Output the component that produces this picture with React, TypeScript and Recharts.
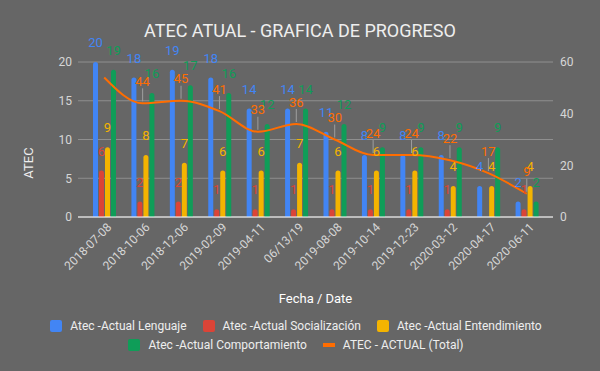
import { ComposedChart, Bar, Line, XAxis, YAxis, CartesianGrid, Legend, LabelList } from 'recharts';

const dates = [
  '2018-07-08', '2018-10-06', '2018-12-06', '2019-02-09', '2019-04-11', '06/13/19',
  '2019-08-08', '2019-10-14', '2019-12-23', '2020-03-12', '2020-04-17', '2020-06-11',
];
const lenguaje = [20, 18, 19, 18, 14, 14, 11, 8, 8, 8, 4, 2];
const socializacion = [6, 2, 2, 1, 1, 1, 1, 1, 1, 1, 0, 1];
const entendimiento = [9, 8, 7, 6, 6, 7, 6, 6, 6, 4, 4, 4];
const comportamiento = [19, 16, 17, 16, 12, 14, 12, 9, 9, 9, 9, 2];
const total = [54, 44, 45, 41, 33, 36, 30, 24, 24, 22, 17, 9];

const leftTicks = [0, 5, 10, 15, 20];
const rightTicks = [0, 20, 40, 60];

const data = dates.map((date, i) => ({
  date,
  lenguaje: lenguaje[i],
  socializacion: socializacion[i],
  entendimiento: entendimiento[i],
  comportamiento: comportamiento[i],
  total: total[i],
}));

const FONT = 'Roboto, sans-serif';
const BLUE = '#4285F4';
const RED = '#DB4437';
const YELLOW = '#F4B400';
const GREEN = '#0F9D58';
const ORANGE = '#FF6D01';

const legendRows = [
  [
    { name: 'Atec -Actual Lenguaje', color: BLUE, line: false },
    { name: 'Atec -Actual Socialización', color: RED, line: false },
    { name: 'Atec -Actual Entendimiento', color: YELLOW, line: false },
  ],
  [
    { name: 'Atec -Actual Comportamiento', color: GREEN, line: false },
    { name: 'ATEC - ACTUAL (Total)', color: ORANGE, line: true },
  ],
];

function barLabel(color: string) {
  return (props: any) => {
    const { x, y, width, value } = props;
    return (
      <text x={Number(x) + Number(width) / 2} y={Number(y) - 15} fill={color} fontSize={13} fontFamily={FONT} textAnchor="middle">
        {value}
      </text>
    );
  };
}

function totalLabel(props: any) {
  const { x, y, value, index } = props;
  if (index === 0) return null;
  return (
    <g>
      <line x1={x} x2={x} y1={y - 15} y2={y - 2} stroke="#9e9e9e" strokeWidth={1} />
      <text x={x} y={y - 17.5} fill={ORANGE} fontSize={13} fontFamily={FONT} textAnchor="middle">
        {value}
      </text>
    </g>
  );
}

function DateTick(props: any) {
  const { x, payload } = props;
  const ax = x + 8;
  const ay = 228;
  return (
    <text x={ax} y={ay} transform={`rotate(-45, ${ax}, ${ay})`} textAnchor="end" fill="#d6d6d6" fontSize={12} fontFamily={FONT}>
      {payload.value}
    </text>
  );
}

function LegendContent() {
  return (
    <div style={{ height: 40, fontFamily: FONT, fontSize: 12, color: '#eeeeee' }}>
      {legendRows.map((row, r) => (
        <div key={r} style={{ display: 'flex', justifyContent: 'center', alignItems: 'center', height: 19, paddingRight: 8 }}>
          {row.map((item) => (
            <div key={item.name} style={{ display: 'flex', alignItems: 'center', margin: '0 8px' }}>
              <span
                style={{
                  display: 'inline-block',
                  width: 12,
                  height: item.line ? 4 : 12,
                  background: item.color,
                  borderRadius: item.line ? 0 : 2,
                  marginRight: 8,
                }}
              />
              <span>{item.name}</span>
            </div>
          ))}
        </div>
      ))}
    </div>
  );
}

export default function App() {
  return (
    <div style={{ position: 'absolute', left: 0, top: 0, width: 600, height: 371, background: '#666666' }}>
      <div
        style={{
          position: 'absolute',
          top: 20,
          width: 600,
          textAlign: 'center',
          fontFamily: FONT,
          fontSize: 18,
          color: '#eeeeee',
        }}
      >
        ATEC ATUAL - GRAFICA DE PROGRESO
      </div>
      <ComposedChart
        width={600}
        height={371}
        data={data}
        margin={{ top: 62, right: 0, left: 0, bottom: 14 }}
        barSize={5}
        barGap={1}
        style={{ fontFamily: FONT }}
      >
        <CartesianGrid yAxisId="left" vertical={false} stroke="#8f8f8f" />
        <XAxis
          dataKey="date"
          interval={0}
          height={100}
          padding={{ left: 7, right: 7 }}
          tickLine={false}
          tickSize={0}
          axisLine={{ stroke: '#ffffff' }}
          tick={<DateTick />}
          label={{ value: 'Fecha / Date', position: 'insideBottom', offset: 14, fill: '#ffffff', fontSize: 13, fontFamily: FONT }}
        />
        <YAxis
          yAxisId="left"
          width={78}
          domain={[0, 20]}
          ticks={leftTicks}
          axisLine={false}
          tickLine={false}
          tickSize={0}
          tickMargin={6}
          tick={{ fill: '#d6d6d6', fontSize: 12, fontFamily: FONT }}
          label={{
            content: () => (
              <text x={33} y={163} transform="rotate(-90, 33, 163)" textAnchor="middle" fill="#eeeeee" fontSize={13} fontFamily={FONT}>
                ATEC
              </text>
            ),
          }}
        />
        <YAxis
          yAxisId="right"
          orientation="right"
          width={47}
          domain={[0, 60]}
          ticks={rightTicks}
          axisLine={false}
          tickLine={false}
          tickSize={0}
          tickMargin={7}
          tick={{ fill: '#d6d6d6', fontSize: 12, fontFamily: FONT }}
        />
        <Legend verticalAlign="bottom" content={<LegendContent />} wrapperStyle={{ top: 316, left: 0, width: 600 }} />
        <Bar yAxisId="left" dataKey="lenguaje" fill={BLUE} radius={[2.5, 2.5, 0, 0]} isAnimationActive={false}>
          <LabelList dataKey="lenguaje" content={barLabel(BLUE)} />
        </Bar>
        <Bar yAxisId="left" dataKey="socializacion" fill={RED} radius={[2.5, 2.5, 0, 0]} isAnimationActive={false}>
          <LabelList dataKey="socializacion" content={barLabel(RED)} />
        </Bar>
        <Bar yAxisId="left" dataKey="entendimiento" fill={YELLOW} radius={[2.5, 2.5, 0, 0]} isAnimationActive={false}>
          <LabelList dataKey="entendimiento" content={barLabel(YELLOW)} />
        </Bar>
        <Bar yAxisId="left" dataKey="comportamiento" fill={GREEN} radius={[2.5, 2.5, 0, 0]} isAnimationActive={false}>
          <LabelList dataKey="comportamiento" content={barLabel(GREEN)} />
        </Bar>
        <Line
          yAxisId="right"
          type="monotone"
          dataKey="total"
          stroke={ORANGE}
          strokeWidth={2}
          dot={false}
          isAnimationActive={false}
        >
          <LabelList dataKey="total" content={totalLabel} />
        </Line>
      </ComposedChart>
    </div>
  );
}
